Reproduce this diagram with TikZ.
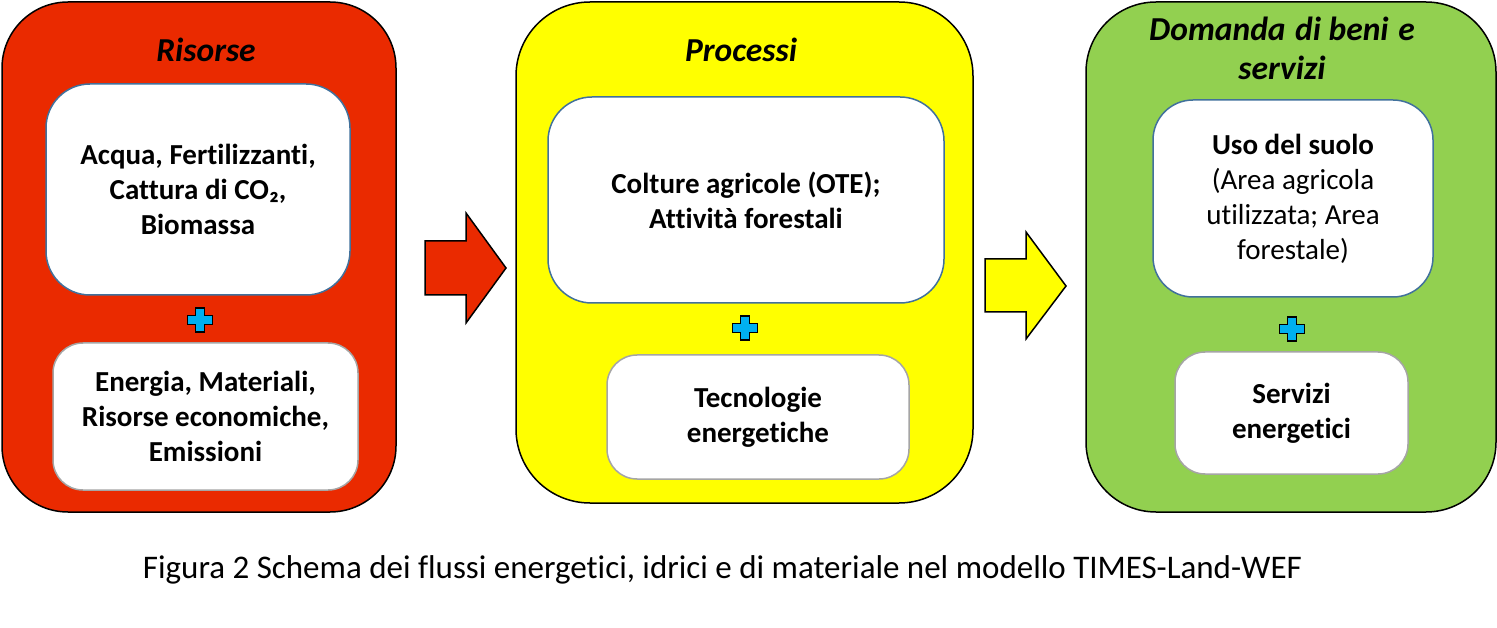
\documentclass[tikz,border=0pt]{standalone}
\usepackage{fontspec}
\setmainfont{Carlito}[Ligatures=NoCommon]
\definecolor{rred}{RGB}{234,42,0}
\definecolor{yel}{RGB}{255,255,0}
\definecolor{grn}{RGB}{146,208,80}
\definecolor{bstroke}{RGB}{65,113,156}
\definecolor{gstroke}{RGB}{165,165,165}
\definecolor{plusc}{RGB}{0,176,240}
\begin{document}
\begin{tikzpicture}[x=1pt,y=-1pt,
  outerbox/.style={draw=black, line width=1.5pt, rectangle, inner sep=0pt, outer sep=0pt},
  topbox/.style={draw=bstroke, fill=white, line width=1.5pt, rectangle, inner sep=0pt, align=center,
     font=\fontsize{29}{35}\selectfont\bfseries},
  botbox/.style={draw=gstroke, fill=white, line width=1.5pt, rectangle, inner sep=0pt, align=center,
     font=\fontsize{29}{35}\selectfont\bfseries, rounded corners=30pt},
  titletext/.style={anchor=base, inner sep=0pt, font=\fontsize{33.5}{40}\selectfont\bfseries\itshape},
  plusshape/.style={fill=plusc, draw=black, line width=1.3pt},
  blockarrow/.style={draw=black, line width=1.5pt, line join=miter}
]
\useasboundingbox (0,0) rectangle (1497,628);

% ---------- Risorse ----------
\node[outerbox, fill=rred, minimum width=394pt, minimum height=510pt, rounded corners=66pt] (R) at (199,257) {};
\node[titletext] (Rt) at (206,62) {Risorse};
\node[topbox, minimum width=304pt, minimum height=211pt, rounded corners=44pt] (R1) at (198,189.5)
  {Acqua, Fertilizzanti,\\Cattura di CO₂,\\Biomassa};
\node[botbox, minimum width=305pt, minimum height=147pt] (R2) at (205.5,416.5)
  {Energia, Materiali,\\Risorse economiche,\\Emissioni};
\draw[plusshape] (200,320) ++(-4.5,-12) -- ++(9,0) -- ++(0,7.5) -- ++(8,0) -- ++(0,9) -- ++(-8,0)
  -- ++(0,7.5) -- ++(-9,0) -- ++(0,-7.5) -- ++(-8,0) -- ++(0,-9) -- ++(8,0) -- cycle;

% red block arrow
\draw[blockarrow, fill=rred] (425,241) -- (466,241) -- (466,213) -- (506,268) -- (466,323) -- (466,295) -- (425,295) -- cycle;

% ---------- Processi ----------
\node[outerbox, fill=yel, minimum width=457pt, minimum height=501pt, rounded corners=74pt] (P) at (744.5,252.5) {};
\node[titletext] (Pt) at (741,62) {Processi};
\node[topbox, minimum width=396pt, minimum height=206pt, rounded corners=44pt] (P1) at (746,200)
  {Colture agricole (OTE);\\Attività forestali};
\node[botbox, minimum width=302pt, minimum height=124pt] (P2) at (758,417)
  {Tecnologie\\energetiche};
\draw[plusshape] (745,328) ++(-4.5,-12) -- ++(9,0) -- ++(0,7.5) -- ++(8,0) -- ++(0,9) -- ++(-8,0)
  -- ++(0,7.5) -- ++(-9,0) -- ++(0,-7.5) -- ++(-8,0) -- ++(0,-9) -- ++(8,0) -- cycle;

% yellow block arrow
\draw[blockarrow, fill=yel] (985,259) -- (1026,259) -- (1026,232) -- (1066,286) -- (1026,339) -- (1026,312) -- (985,312) -- cycle;

% ---------- Domanda ----------
\node[outerbox, fill=grn, minimum width=410pt, minimum height=510pt, rounded corners=70pt] (D) at (1291,257) {};
\node[titletext] (Dt1) at (1282,41) {Domanda\hspace{2pt} di beni\hspace{2pt} e};
\node[titletext] (Dt2) at (1282,80) {servizi};
\node[topbox, minimum width=280pt, minimum height=197pt, rounded corners=40pt, font=\fontsize{29}{35}\selectfont] (D1) at (1293,198.5)
  {\textbf{Uso del suolo}\\(Area agricola\\utilizzata; Area\\forestale)};
\node[botbox, minimum width=233pt, minimum height=122pt] (D2) at (1291.5,413)
  {Servizi\\energetici};
\draw[plusshape] (1292,329) ++(-4.5,-12) -- ++(9,0) -- ++(0,7.5) -- ++(8,0) -- ++(0,9) -- ++(-8,0)
  -- ++(0,7.5) -- ++(-9,0) -- ++(0,-7.5) -- ++(-8,0) -- ++(0,-9) -- ++(8,0) -- cycle;

% ---------- caption ----------
\node[anchor=base, inner sep=0pt, font=\fontsize{33}{40}\selectfont] (cap) at (722.5,578)
  {Figura 2 Schema dei flussi energetici, idrici e di materiale nel modello TIMES-Land-WEF};
\end{tikzpicture}
\end{document}
